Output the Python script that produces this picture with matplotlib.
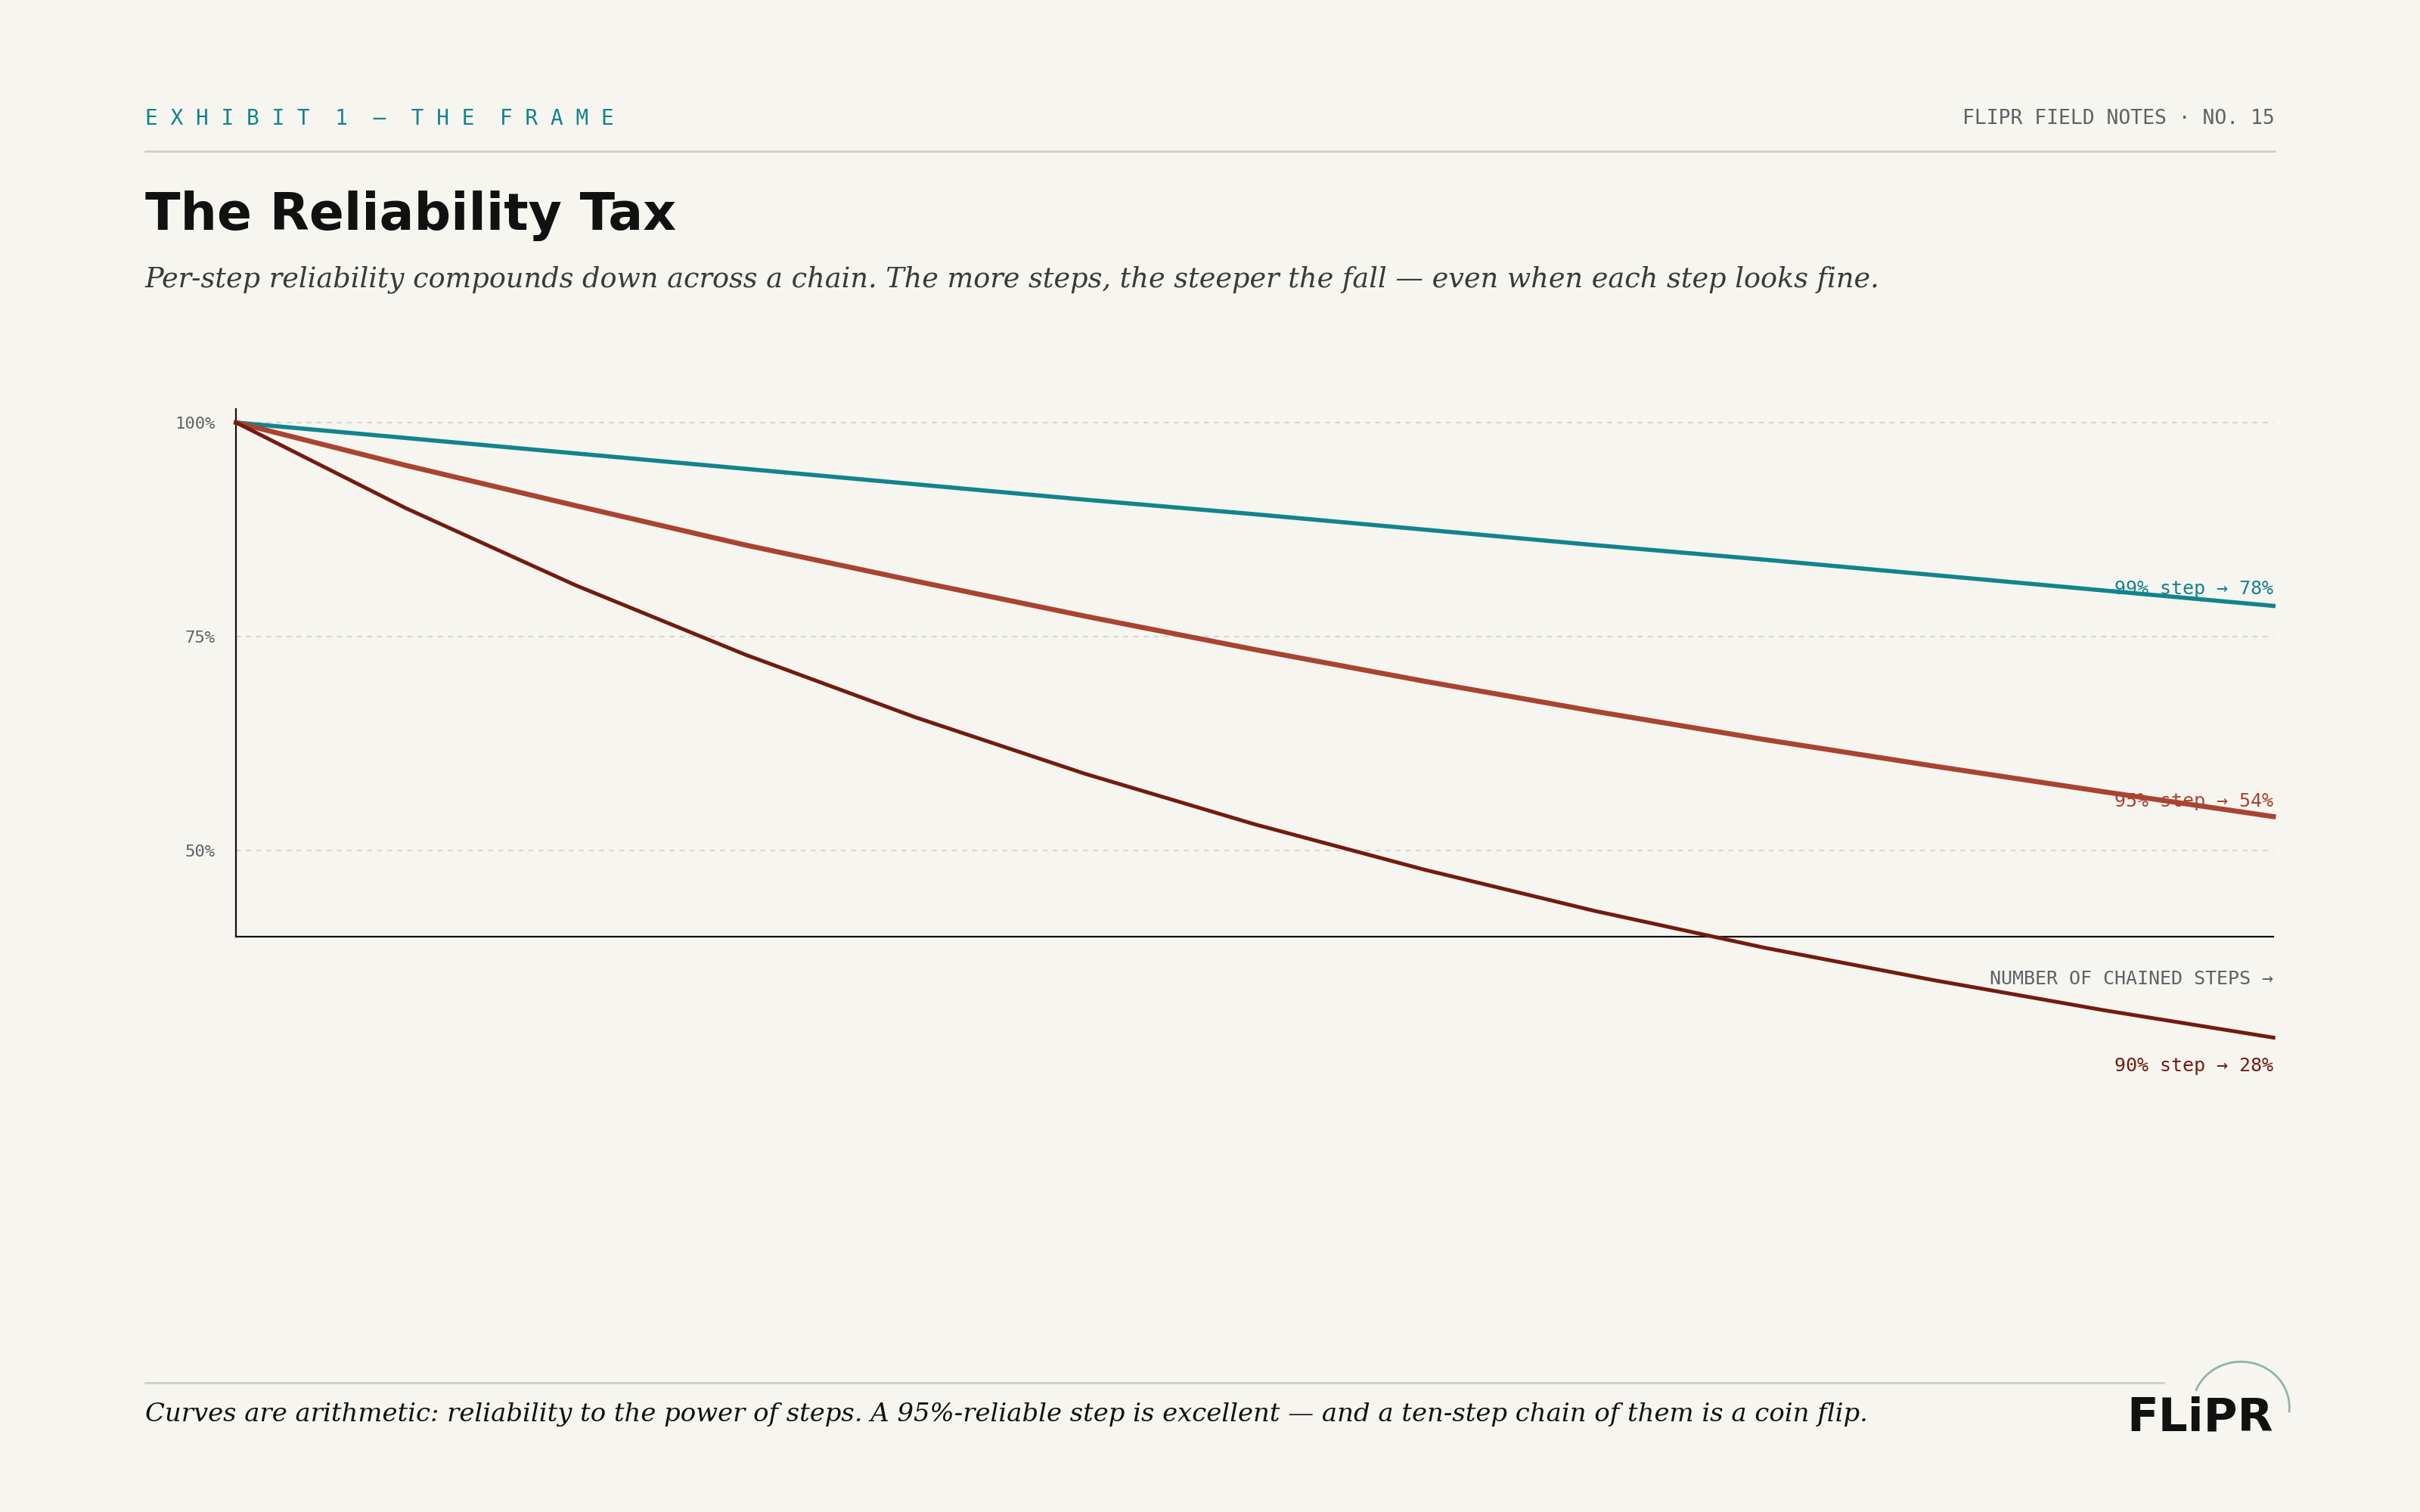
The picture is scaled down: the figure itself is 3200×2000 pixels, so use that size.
import matplotlib.pyplot as plt
from matplotlib.patches import Arc

BG = '#f6f5ef'
TEAL = '#12838f'
RUST = '#a94332'
MAROON = '#731b10'
GREY = '#5f6368'

steps = list(range(13))
rel_99 = [100, 98.2, 96.4, 94.6, 92.8, 91.0, 89.3, 87.5, 85.7, 84.0, 82.2, 80.4, 78.6]
rel_95 = [100, 95.0, 90.3, 85.7, 81.5, 77.4, 73.5, 69.8, 66.3, 63.0, 59.9, 56.9, 54.0]
rel_90 = [100, 90.0, 81.0, 72.9, 65.6, 59.0, 53.1, 47.8, 43.0, 38.7, 34.9, 31.4, 28.2]
labels = ['99% step → 78%', '95% step → 54%', '90% step → 28%']
yticks = [50, 75, 100]
ytick_labels = ['50%', '75%', '100%']

W, H = 1568, 980
fig = plt.figure(figsize=(16, 10), dpi=200, facecolor=BG)
def fx(px): return px / W
def fy(py): return 1 - py / H

mono = ['DejaVu Sans Mono']
serif = ['DejaVu Serif']

# header
fig.text(fx(94), fy(77), 'E X H I B I T  1  —  T H E  F R A M E', color=TEAL,
         family=mono, fontsize=10, va='center')
fig.text(fx(1474), fy(77), 'FLIPR FIELD NOTES · NO. 15', color=GREY, family=mono,
         fontsize=9.5, va='center', ha='right')
fig.add_artist(plt.Line2D([fx(94), fx(1474)], [fy(98), fy(98)], color='#cfcfca', lw=1))
fig.text(fx(94), fy(140), 'The Reliability Tax', family=['DejaVu Sans'], weight='bold',
         fontsize=24.5, va='center', color='#111111')
fig.text(fx(94), fy(181), 'Per-step reliability compounds down across a chain. The more steps, '
         'the steeper the fall — even when each step looks fine.', family=serif,
         style='italic', fontsize=13.2, va='center', color='#3a3a3a')

ax = fig.add_axes([fx(153), fy(607), fx(1473) - fx(153), fy(265) - fy(607)])
ax.set_facecolor(BG)
for vals, c, lw in [(rel_99, TEAL, 2.0), (rel_95, RUST, 2.4), (rel_90, MAROON, 1.8)]:
    ax.plot(steps, vals, color=c, lw=lw, clip_on=False, zorder=3)
ax.set_xlim(0, 12)
ax.set_ylim(40, 101.6)
for s in ['top', 'right']:
    ax.spines[s].set_visible(False)
ax.spines['left'].set_color('#111111')
ax.spines['bottom'].set_color('#111111')
ax.set_xticks([])
ax.set_yticks(yticks)
ax.set_yticklabels(ytick_labels, family=mono, fontsize=8, color=GREY)
ax.tick_params(axis='y', length=0, pad=10)
ax.grid(axis='y', color='#d8d8d2', ls=(0, (3, 3)), lw=0.8)

for vals, c, lab, dy in [(rel_99, TEAL, labels[0], 2.0), (rel_95, RUST, labels[1], 1.8),
                         (rel_90, MAROON, labels[2], -3.3)]:
    ax.text(12, vals[-1] + dy, lab, color=c, family=mono, fontsize=9, ha='right',
            va='center', clip_on=False)
ax.text(12, 35.0, 'NUMBER OF CHAINED STEPS →', color=GREY, family=mono, fontsize=9,
        ha='right', va='center', clip_on=False)

# footer
fig.add_artist(plt.Line2D([fx(94), fx(1402)], [fy(896), fy(896)], color='#cfcfca', lw=1))
fig.text(fx(94), fy(917), 'Curves are arithmetic: reliability to the power of steps. A 95%-reliable '
         'step is excellent — and a ten-step chain of them is a coin flip.', family=serif,
         style='italic', fontsize=12.2, va='center', color='#111111')
fig.text(fx(1473), fy(919), 'FLiPR', family=['DejaVu Sans'], weight='bold', fontsize=22,
         ha='right', va='center', color='#111111')
fig.add_artist(Arc((fx(1452), fy(912)), 0.04, 0.06, theta1=-10, theta2=150,
                   color='#8fb5ad', lw=1, transform=fig.transFigure))

fig.savefig('out.png', facecolor=BG)
